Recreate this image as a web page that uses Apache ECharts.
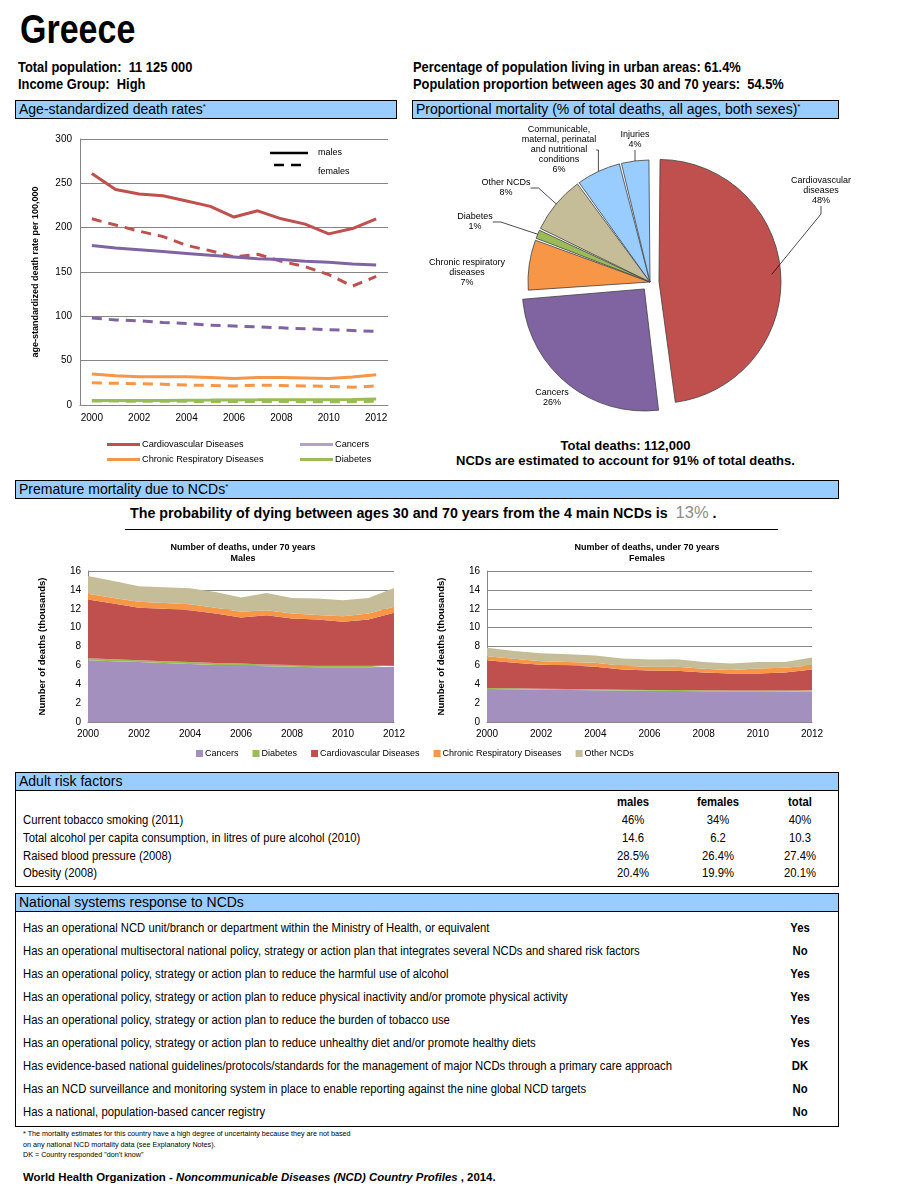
<!DOCTYPE html>
<html><head><meta charset="utf-8">
<script src="https://cdn.jsdelivr.net/npm/echarts@6/dist/echarts.min.js"></script>
<style>
body{margin:0;background:#fff;font-family:"Liberation Sans",Arial,sans-serif;color:#000;}
#page{position:relative;width:915px;height:1200px;overflow:hidden;}
.t{position:absolute;white-space:nowrap;}
.sx{transform-origin:0 50%;}
.hdr{position:absolute;background:#99CCFF;border:1px solid #000;box-sizing:border-box;font-size:14px;line-height:17px;padding-left:3px;white-space:nowrap;}
.hdr .ast{font-size:8px;vertical-align:top;line-height:12px;}
.box{position:absolute;border:1px solid #000;border-top:none;box-sizing:border-box;}
.chart{position:absolute;}
</style></head>
<body><div id="page">
<div class="t sx" style="left:20px;top:9px;font-size:40px;line-height:40px;font-weight:bold;transform:scaleX(0.85);">Greece</div>
<div class="t sx" style="left:18px;top:59px;font-size:14px;line-height:16px;font-weight:bold;transform:scaleX(0.92);">Total population:&nbsp; 11 125 000</div>
<div class="t sx" style="left:18px;top:76px;font-size:14px;line-height:16px;font-weight:bold;transform:scaleX(0.92);">Income Group:&nbsp; High</div>
<div class="t sx" style="left:413px;top:59px;font-size:14px;line-height:16px;font-weight:bold;transform:scaleX(0.92);">Percentage of population living in urban areas: 61.4%</div>
<div class="t sx" style="left:413px;top:76px;font-size:14px;line-height:16px;font-weight:bold;transform:scaleX(0.92);">Population proportion between ages 30 and 70 years:&nbsp; 54.5%</div>

<div class="hdr" style="left:15px;top:100px;width:382px;height:19px;">Age-standardized death rates<span class="ast">*</span></div>
<div class="hdr" style="left:412px;top:100px;width:427px;height:19px;">Proportional mortality (% of total deaths, all ages, both sexes)<span class="ast">*</span></div>

<div id="c1" class="chart" style="left:15px;top:120px;width:385px;height:350px;"></div>
<div id="c2" class="chart" style="left:410px;top:120px;width:500px;height:318px;"></div>

<div class="t" style="left:412px;width:427px;text-align:center;top:438px;font-size:13px;line-height:16px;font-weight:bold;">Total deaths: 112,000</div>
<div class="t" style="left:412px;width:427px;text-align:center;top:453px;font-size:13px;line-height:16px;font-weight:bold;">NCDs are estimated to account for 91% of total deaths.</div>

<div class="hdr" style="left:15px;top:480px;width:824px;height:19px;">Premature mortality due to NCDs<span class="ast">*</span></div>
<div class="t" style="left:130px;top:503px;font-size:14.25px;line-height:19px;font-weight:bold;">The probability of dying between ages 30 and 70 years from the 4 main NCDs is&nbsp; <span style="color:#8c8c8c;font-weight:normal;font-size:16.5px;">13%</span> .</div>
<div style="position:absolute;left:125px;top:529px;width:653px;height:1px;background:#000;"></div>

<div id="c3" class="chart" style="left:10px;top:535px;width:830px;height:232px;"></div>

<div class="hdr" style="left:15px;top:772px;width:824px;height:19px;">Adult risk factors</div>
<div class="box" style="left:15px;top:790px;width:824px;height:97px;"></div>
<div id="risk"></div>

<div class="hdr" style="left:15px;top:893px;width:824px;height:19px;">National systems response to NCDs</div>
<div class="box" style="left:15px;top:911px;width:824px;height:216px;"></div>
<div id="nat"></div>

<div class="t" style="left:23px;top:1129px;font-size:7.2px;line-height:10.5px;">* The mortality estimates for this country have a high degree of uncertainty because they are not based<br>on any national NCD mortality data (see Explanatory Notes).<br>DK = Country responded "don't know"</div>
<div class="t" style="left:23px;top:1170px;font-size:11.4px;line-height:15px;font-weight:bold;">World Health Organization - <i>Noncommunicable Diseases (NCD) Country Profiles</i> , 2014.</div>
</div>
<script>
// ---------- data ----------
const years = ['2000','2001','2002','2003','2004','2005','2006','2007','2008','2009','2010','2011','2012'];
// age-standardized death rates per 100,000
const cvdMales      = [261,243,238,236,230,224,212,219,210,204,193,199,210];
const cvdFemales    = [210,203,196,190,180,174,167,170,162,156,147,134,145];
const cancerMales   = [180,177,175,173,171,169,167,165,164,162,161,159,158];
const cancerFemales = [98,96,95,93,92,90,89,88,87,86,85,84,83];
const crdMales      = [35,33,32,32,32,31,30,31,31,30.5,30,31.5,34];
const crdFemales    = [25,24.5,24,23.5,22.5,22,21.5,22.5,22,21.5,21,20,21.5];
const diabMales     = [5,5,5,5.2,5.4,5.5,5.7,5.8,6,6,6,6.2,6.8];
const diabFemales   = [4.5,4.4,4.3,4.2,4.1,4,4,4,3.9,3.8,3.8,3.8,4.2];

// proportional mortality (%)
const pieNames  = ['Cardiovascular diseases','Cancers','Chronic respiratory diseases','Diabetes','Other NCDs','Communicable, maternal, perinatal and nutritional conditions','Injuries'];
const pieLabels = ['Cardiovascular\ndiseases','Cancers','Chronic respiratory\ndiseases','Diabetes','Other NCDs','Communicable,\nmaternal, perinatal\nand nutritional\nconditions','Injuries'];
const pieShares = [48.0,25.8,6.9,1.4,7.9,6.1,3.9];
const pieExploded = [true,true,false,false,false,false,false];

// number of deaths under 70 (thousands)
const areaNames = ['Cancers','Diabetes','Cardiovascular Diseases','Chronic Respiratory Diseases','Other NCDs'];
const mCancers = [6.55,6.45,6.35,6.25,6.15,6.05,6.0,5.9,5.85,5.8,5.8,5.8,5.85];
const mDiab    = [0.2,0.2,0.2,0.2,0.2,0.2,0.2,0.2,0.2,0.2,0.2,0.2,0.2];
const mCvd     = [6.22,5.9,5.55,5.55,5.5,5.25,4.88,5.2,4.92,4.86,4.62,4.86,5.52];
const mCrd     = [0.63,0.6,0.63,0.6,0.63,0.6,0.59,0.55,0.53,0.49,0.58,0.64,0.63];
const mOther   = [1.87,1.79,1.65,1.68,1.69,1.68,1.52,1.83,1.65,1.73,1.7,1.65,2.0];
const fCancers = [3.5,3.47,3.43,3.4,3.37,3.33,3.3,3.28,3.26,3.25,3.25,3.24,3.25];
const fDiab    = [0.1,0.1,0.1,0.1,0.1,0.1,0.1,0.1,0.1,0.1,0.1,0.1,0.1];
const fCvd     = [2.95,2.7,2.53,2.52,2.38,2.14,2.06,2.05,1.89,1.8,1.8,1.91,2.22];
const fCrd     = [0.42,0.42,0.38,0.35,0.42,0.38,0.39,0.42,0.39,0.35,0.52,0.49,0.45];
const fOther   = [0.91,0.84,0.84,0.81,0.77,0.77,0.77,0.8,0.73,0.7,0.7,0.63,0.81];

// adult risk factors
const riskCols   = ['males','females','total'];
const riskLabels = ['Current tobacco smoking (2011)','Total alcohol per capita consumption, in litres of pure alcohol (2010)','Raised blood pressure (2008)','Obesity (2008)'];
const riskMales   = ['46%','14.6','28.5%','20.4%'];
const riskFemales = ['34%','6.2','26.4%','19.9%'];
const riskTotal   = ['40%','10.3','27.4%','20.1%'];

// national systems response
const natLabels = [
 'Has an operational NCD unit/branch or department within the Ministry of Health, or equivalent',
 'Has an operational multisectoral national policy, strategy or action plan that integrates several NCDs and shared risk factors',
 'Has an operational policy, strategy or action plan to reduce the harmful use of alcohol',
 'Has an operational policy, strategy or action plan to reduce physical inactivity and/or promote physical activity',
 'Has an operational policy, strategy or action plan to reduce the burden of tobacco use',
 'Has an operational policy, strategy or action plan to reduce unhealthy diet and/or promote healthy diets',
 'Has evidence-based national guidelines/protocols/standards for the management of major NCDs through a primary care approach',
 'Has an NCD surveillance and monitoring system in place to enable reporting against the nine global NCD targets',
 'Has a national, population-based cancer registry'];
const natAnswers = ['Yes','No','Yes','Yes','Yes','Yes','DK','No','No'];

// ---------- tables ----------
(function(){
  let h='';
  const colX=[633,718,800];
  const cell='font-size:12px;line-height:16px;';
  riskCols.forEach((c,i)=>{h+=`<div class="t" style="left:${colX[i]-40}px;width:80px;text-align:center;top:794px;${cell}font-weight:bold;transform:scaleX(0.94);">${c}</div>`;});
  const rowY=[812,830,848,865];
  riskLabels.forEach((l,i)=>{
    h+=`<div class="t sx" style="left:23px;top:${rowY[i]}px;${cell}transform:scaleX(0.94);">${l}</div>`;
    [riskMales[i],riskFemales[i],riskTotal[i]].forEach((v,j)=>{h+=`<div class="t" style="left:${colX[j]-40}px;width:80px;text-align:center;top:${rowY[i]}px;${cell}transform:scaleX(0.94);">${v}</div>`;});
  });
  document.getElementById('risk').innerHTML=h;
  let n='';
  natLabels.forEach((l,i)=>{
    const y=920+i*23;
    n+=`<div class="t sx" style="left:23px;top:${y}px;${cell}transform:scaleX(0.94);">${l}</div>`;
    n+=`<div class="t" style="left:770px;width:60px;text-align:center;top:${y}px;${cell}font-weight:bold;transform:scaleX(0.94);">${natAnswers[i]}</div>`;
  });
  document.getElementById('nat').innerHTML=n;
})();

// ---------- charts ----------
const FONT='Liberation Sans';
const C_CVD='#C0504D', C_CAN='#8064A2', C_CRD='#F79646', C_DIA='#9BBB59', C_OTH='#C4BD97', C_COM='#99CCFF';
const GRID='#868686';

const c1=echarts.init(document.getElementById('c1'));
function ln(name,data,color,dashed,z){
  return {name,type:'line',data,symbol:'none',smooth:false,z,
    lineStyle:{color,width:3,type:dashed?[10,7]:'solid'},itemStyle:{color}};
}
const lineLegend={orient:'vertical',top:315,itemGap:6,itemWidth:33,itemHeight:3,icon:'rect',
  textStyle:{fontSize:9.2,color:'#000',padding:[0,0,0,-3]},selectedMode:false};
c1.setOption({
  animation:false,
  textStyle:{fontFamily:FONT},
  grid:{left:65,top:19,width:308,height:266,containLabel:false},
  xAxis:{type:'category',data:years,boundaryGap:true,
    axisLine:{lineStyle:{color:GRID}},axisTick:{show:false},
    axisLabel:{interval:1,color:'#000',fontSize:10,margin:8}},
  yAxis:{type:'value',min:0,max:300,interval:50,
    name:'age-standardized death rate per 100,000',nameLocation:'middle',nameGap:40,
    nameTextStyle:{fontSize:9,fontWeight:'bold',color:'#000'},
    axisLine:{show:true,lineStyle:{color:GRID}},axisTick:{show:false},
    splitLine:{lineStyle:{color:GRID}},axisLabel:{color:'#000',fontSize:10,margin:8}},
  legend:[
    Object.assign({left:87,data:['Cardiovascular Diseases','Chronic Respiratory Diseases']},lineLegend),
    Object.assign({left:280,data:[{name:'Cancers',itemStyle:{color:'#B3A2C7'}},'Diabetes']},lineLegend)
  ],
  graphic:[
    {type:'line',shape:{x1:255,y1:33,x2:293,y2:33},style:{stroke:'#000',lineWidth:2.5}},
    {type:'line',shape:{x1:259,y1:45,x2:293,y2:45},style:{stroke:'#000',lineWidth:2.5,lineDash:[10,7]}},
    {type:'text',left:303,top:28,style:{text:'males',font:'9px Liberation Sans',fill:'#000'}},
    {type:'text',left:303,top:47,style:{text:'females',font:'9px Liberation Sans',fill:'#000'}}
  ],
  series:[
    ln('Cardiovascular Diseases',cvdMales,C_CVD,false,5),
    ln('Cardiovascular Diseases',cvdFemales,C_CVD,true,4),
    ln('Cancers',cancerMales,C_CAN,false,5),
    ln('Cancers',cancerFemales,C_CAN,true,4),
    ln('Chronic Respiratory Diseases',crdMales,C_CRD,false,5),
    ln('Chronic Respiratory Diseases',crdFemales,C_CRD,true,4),
    ln('Diabetes',diabMales,C_DIA,false,5),
    ln('Diabetes',diabFemales,C_DIA,true,4)
  ]
});

const c2=echarts.init(document.getElementById('c2'));
const pieColors=[C_CVD,C_CAN,C_CRD,C_DIA,C_OTH,C_COM,C_COM];
// label anchor placement (layout only), mirroring the reference's label arrangement
const pieLabelSpots=[[411,71],[142,278],[57,153],[65,102],[96,68],[149,30],[225,20]];
const pieLineShown=[true,false,false,true,true,true,true];
const pieBase={type:'pie',center:[240,162],radius:[0,122],startAngle:90,clockwise:true,emphasis:{disabled:true}};
c2.setOption({
  animation:false,
  textStyle:{fontFamily:FONT},
  series:[
    Object.assign({},pieBase,{
      selectedMode:'multiple',selectedOffset:9,padAngle:1,
      itemStyle:{borderColor:'#404040',borderWidth:0.8},
      label:{show:false},labelLine:{show:false},
      data:pieNames.map((n,i)=>({name:n,value:pieShares[i],selected:pieExploded[i],itemStyle:{color:pieColors[i]}}))
    }),
    // same slices, invisible: carries the outside labels and leader lines
    Object.assign({},pieBase,{
      silent:true,selectedMode:false,z:3,
      itemStyle:{color:'rgba(0,0,0,0)',borderWidth:0},
      label:{show:true,position:'outside',alignTo:'none',overflow:'none',fontSize:9,lineHeight:10,color:'#000',
        formatter:p=>pieLabels[p.dataIndex]+'\n'+Math.round(p.percent)+'%'},
      labelLine:{show:true,length:8,length2:8,lineStyle:{color:'#000',width:0.7}},
      labelLayout:p=>({x:pieLabelSpots[p.dataIndex][0],y:pieLabelSpots[p.dataIndex][1],align:'center',verticalAlign:'middle'}),
      data:pieNames.map((n,i)=>({name:n,value:pieShares[i],labelLine:{show:pieLineShown[i]}}))
    })
  ]
});

const c3=echarts.init(document.getElementById('c3'));
const areaColors=['#A390BE',C_DIA,C_CVD,C_CRD,C_OTH];
function areas(arrs,gi){
  return arrs.map((d,i)=>({name:areaNames[i],type:'line',stack:'s'+gi,data:d,symbol:'none',
    xAxisIndex:gi,yAxisIndex:gi,lineStyle:{width:0,opacity:0},
    areaStyle:{color:areaColors[i],opacity:1},itemStyle:{color:areaColors[i]}}));
}
function xa(gi){return {type:'category',gridIndex:gi,data:years,boundaryGap:false,
  axisLine:{lineStyle:{color:GRID}},axisTick:{show:false},axisLabel:{interval:1,color:'#000',fontSize:10,margin:7}};}
function ya(gi){return {type:'value',gridIndex:gi,min:0,max:16,interval:2,
  name:'Number of deaths (thousands)',nameLocation:'middle',nameGap:41,
  nameTextStyle:{fontSize:9.5,fontWeight:'bold',color:'#000'},
  axisLine:{show:true,lineStyle:{color:GRID}},axisTick:{show:false},
  splitLine:{lineStyle:{color:GRID}},axisLabel:{color:'#000',fontSize:10,margin:7}};}
c3.setOption({
  animation:false,
  textStyle:{fontFamily:FONT},
  title:[
    {text:'Number of deaths, under 70 years\nMales',left:228,top:2,textAlign:'center',
     textStyle:{fontSize:9,fontWeight:'bold',lineHeight:11,color:'#000'}},
    {text:'Number of deaths, under 70 years\nFemales',left:632,top:2,textAlign:'center',
     textStyle:{fontSize:9,fontWeight:'bold',lineHeight:11,color:'#000'}}
  ],
  grid:[{left:78,top:36,width:306,height:151},{left:477,top:36,width:325,height:151}],
  xAxis:[xa(0),xa(1)],
  yAxis:[ya(0),ya(1)],
  legend:{left:181,top:209,itemGap:14,itemWidth:7,itemHeight:7,icon:'rect',selectedMode:false,
    textStyle:{fontSize:9,color:'#000',padding:[0,0,0,-3]},data:areaNames},
  series:[...areas([mCancers,mDiab,mCvd,mCrd,mOther],0),...areas([fCancers,fDiab,fCvd,fCrd,fOther],1)]
});
</script>
</body></html>
